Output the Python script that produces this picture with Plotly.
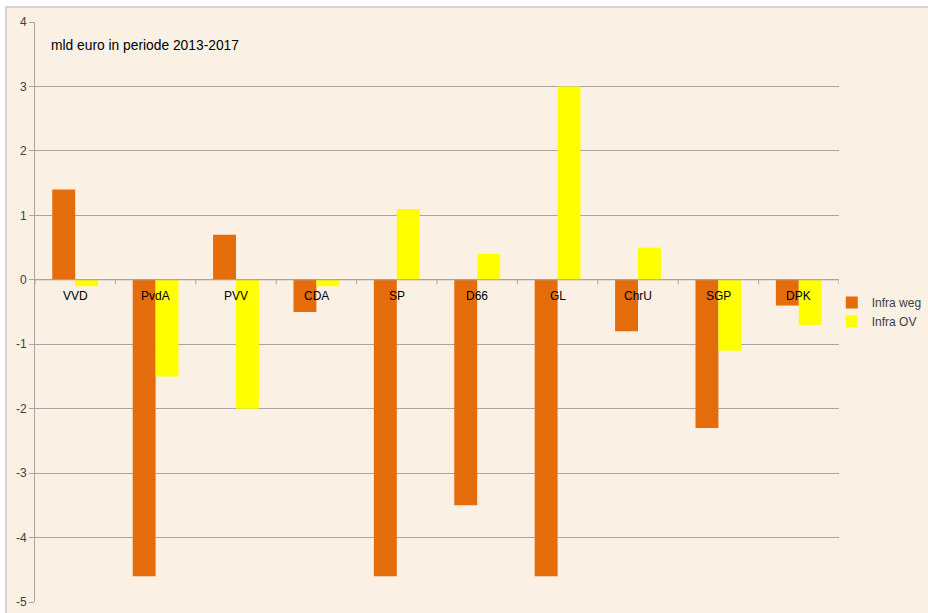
import plotly.graph_objects as go

partijen = ["VVD", "PvdA", "PVV", "CDA", "SP", "D66", "GL", "ChrU", "SGP", "DPK"]
infra_weg = [1.4, -4.6, 0.7, -0.5, -4.6, -3.5, -4.6, -0.8, -2.3, -0.4]
infra_ov = [-0.1, -1.5, -2.0, -0.1, 1.1, 0.4, 3.0, 0.5, -1.1, -0.7]
y_ticks = [-5, -4, -3, -2, -1, 0, 1, 2, 3, 4]
y_ticktext = [str(v) for v in y_ticks]

BG = "#FBF0E4"
GRID = "#A6A6A6"
FONT = "Liberation Sans, Arial, sans-serif"

W, H = 928, 613
L, R, T, B = 35, 89, 22, 11
PW, PH = W - L - R, H - T - B

fig = go.Figure()
fig.add_trace(go.Bar(name="Infra weg", x=partijen, y=infra_weg, marker_color="#E46C0A",
                     marker_line_width=0))
fig.add_trace(go.Bar(name="Infra OV", x=partijen, y=infra_ov, marker_color="#FFFF00",
                     marker_line_width=0))

shapes = []
# chart area (beige) with a gray border on top/left
shapes.append(dict(type="rect", xref="paper", yref="paper", x0=(6 - L) / PW, x1=1.5, y0=-0.2,
                   y1=1 + (T - 7) / PH,
                   fillcolor=BG, line=dict(color="#C8C8C8", width=1.5), layer="below"))
# category tick marks at the zero line
for k in range(len(partijen) + 1):
    shapes.append(dict(type="line", xref="x", yref="y", x0=k - 0.5, x1=k - 0.5, y0=0, y1=-0.07,
                       line=dict(color=GRID, width=1)))
# zero line across
shapes.append(dict(type="line", xref="paper", yref="y", x0=0, x1=1, y0=0, y1=0,
                   line=dict(color=GRID, width=1)))

annotations = [dict(xref="paper", yref="paper", x=14 / PW, y=1 - 24 / PH, xanchor="left",
                    yanchor="middle", text="mld euro in periode 2013-2017", showarrow=False,
                    font=dict(family=FONT, size=13.8, color="#000000"))]
for p in partijen:
    annotations.append(dict(xref="x", yref="y", x=p, y=0, yshift=-16, text=p, showarrow=False,
                            xanchor="center", yanchor="middle",
                            font=dict(family=FONT, size=12, color="#000000")))

fig.update_layout(
    width=W, height=H,
    margin=dict(l=L, r=R, t=T, b=B, autoexpand=False),
    paper_bgcolor="#FFFFFF",
    plot_bgcolor=BG,
    barmode="group",
    bargap=0.43,
    bargroupgap=0,
    font=dict(family=FONT, size=12, color="#404040"),
    shapes=shapes,
    annotations=annotations,
    legend=dict(x=0.991, y=0.5, xanchor="left", yanchor="middle", bgcolor="rgba(0,0,0,0)",
                font=dict(family=FONT, size=12, color="#404040"), itemwidth=30, tracegroupgap=0),
    xaxis=dict(showticklabels=False, showgrid=False, zeroline=False, showline=False, ticks="",
               range=[-0.5, len(partijen) - 0.5]),
    yaxis=dict(range=[-5, 4], tickvals=y_ticks, ticktext=y_ticktext, showgrid=True, gridcolor=GRID,
               gridwidth=1, zeroline=False, showline=True, linecolor=GRID, linewidth=1,
               ticks="outside", ticklen=5, tickcolor=GRID,
               tickfont=dict(family=FONT, size=12, color="#404040")),
)

fig.write_html("out.html", config={"displayModeBar": False},
               post_script="document.body.style.margin='0';document.body.style.overflow='hidden';")
